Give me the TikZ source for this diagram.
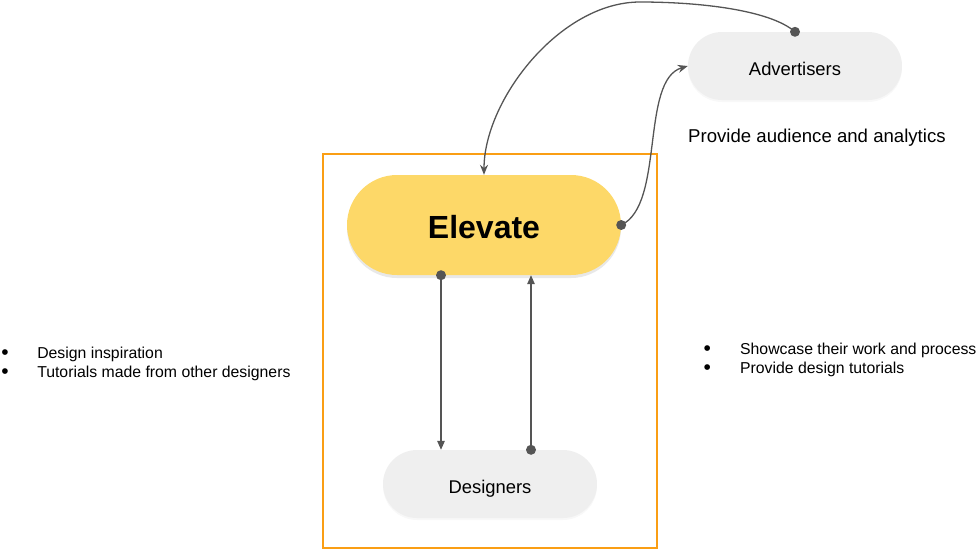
\documentclass[tikz,border=0pt]{standalone}
\usepackage{fontspec}
\setmainfont{Liberation Sans}
\usetikzlibrary{arrows.meta,shadows,positioning}
\definecolor{elevateyellow}{RGB}{253,216,104}
\definecolor{pillgrey}{RGB}{239,239,239}
\definecolor{frameorange}{RGB}{250,158,20}
\definecolor{linkgrey}{RGB}{85,85,85}
\newcommand{\bigdot}{{\fontsize{21}{19}\selectfont\raisebox{-1.5pt}{\textbullet}}}
\tikzset{
  pill/.style={rectangle, rounded corners=34pt, fill=pillgrey, inner sep=0pt,
    minimum width=214pt, minimum height=68pt, font=\fontsize{18.4}{20}\selectfont,
    text height=18pt, text depth=0pt,
    drop shadow={shadow xshift=0pt, shadow yshift=-2pt, opacity=0.06}},
  mainpill/.style={rectangle, rounded corners=50pt, fill=elevateyellow, inner sep=0pt,
    minimum width=274pt, minimum height=100pt, font=\fontsize{32}{36}\selectfont\bfseries,
    text height=26pt, text depth=0pt,
    drop shadow={shadow xshift=0pt, shadow yshift=-3pt, opacity=0.18}},
  plaintext/.style={inner sep=0pt, font=\fontsize{18.6}{20}\selectfont},
  listtext/.style={inner sep=0pt, font=\fontsize{15.8}{19}\selectfont},
  link/.style={draw=linkgrey, line width=1.3pt, -{Triangle[length=9pt,width=7.5pt]}},
  curvelink/.style={draw=linkgrey, line width=1.3pt, -{Stealth[length=10pt,width=8pt]}},
  dot/.style={fill=linkgrey}
}
\begin{document}
\begin{tikzpicture}[x=1pt, y=-1pt]
  \useasboundingbox (0,0) rectangle (978,550);

  % frame round the platform
  \draw[frameorange, line width=2pt] (323,154) rectangle (657,548);

  \node[mainpill] (elevate) at (484,225) {Elevate};
  \node[pill] (advertisers) at (795,66) {Advertisers};
  \node[pill] (designers) at (490,484) {Designers};

  \node[plaintext, anchor=base west] (audience) at (688,142) {Provide audience and analytics};

  \node[listtext, anchor=base west] (seekers) at (1.3,358)
    {\begin{tabular}[t]{@{}l@{\hspace{28.4pt}}l@{}}
      \bigdot & Design inspiration\\
      \bigdot & Tutorials made from other designers
    \end{tabular}};
  \node[listtext, anchor=base west] (makers) at (703.3,354)
    {\begin{tabular}[t]{@{}l@{\hspace{29.3pt}}l@{}}
      \bigdot & Showcase their work and process\\
      \bigdot & Provide design tutorials
    \end{tabular}};

  % advertisers <-> elevate
  \fill[dot] (advertisers.north) circle (5pt);
  \draw[curvelink] (advertisers.north) .. controls (770,10) and (700,2) .. (640,2)
    .. controls (560,2) and (484,100) .. (elevate.north);
  \fill[dot] (elevate.east) circle (5pt);
  \draw[curvelink] (elevate.east) .. controls (665,205) and (640,80) .. (advertisers.west);

  % elevate <-> designers
  \fill[dot] ([xshift=-43pt]elevate.south) circle (5pt);
  \draw[link] ([xshift=-43pt]elevate.south) -- ([xshift=-43pt]elevate.south |- designers.north);
  \fill[dot] ([xshift=41pt]designers.north) circle (5pt);
  \draw[link] ([xshift=41pt]designers.north) -- ([xshift=41pt]designers.north |- elevate.south);
\end{tikzpicture}
\end{document}
